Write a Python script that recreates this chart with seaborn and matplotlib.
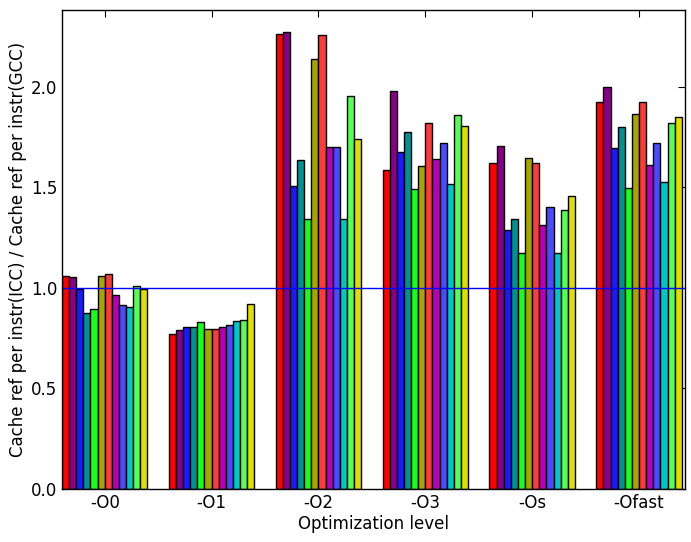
import numpy as np
import pandas as pd
import matplotlib
matplotlib.use("Agg")
import matplotlib.pyplot as plt
import seaborn as sns

levels = ["-O0", "-O1", "-O2", "-O3", "-Os", "-Ofast"]
benchmarks = ["b01", "b02", "b03", "b04", "b05", "b06",
              "b07", "b08", "b09", "b10", "b11", "b12"]

# ratio per benchmark, one list per optimization level
o0 = [1.060, 1.053, 0.995, 0.874, 0.894, 1.060, 1.068, 0.965, 0.915, 0.904, 1.010, 0.993]
o1 = [0.771, 0.791, 0.804, 0.804, 0.829, 0.795, 0.795, 0.804, 0.816, 0.834, 0.839, 0.919]
o2 = [2.264, 2.272, 1.507, 1.635, 1.345, 2.138, 2.259, 1.701, 1.701, 1.343, 1.953, 1.741]
o3 = [1.587, 1.980, 1.678, 1.776, 1.493, 1.605, 1.819, 1.642, 1.721, 1.516, 1.861, 1.804]
os_ = [1.620, 1.706, 1.290, 1.342, 1.173, 1.645, 1.620, 1.312, 1.401, 1.173, 1.386, 1.456]
ofast = [1.924, 2.002, 1.695, 1.799, 1.497, 1.866, 1.924, 1.610, 1.721, 1.526, 1.821, 1.849]

colors = ["#ff0000", "#870087", "#1a1aff", "#009191", "#1aff1a", "#a6a600",
          "#ff3a3a", "#b800b8", "#4a4aff", "#00c6c6", "#55ff55", "#dede00"]

rows = []
for lvl, vals in zip(levels, [o0, o1, o2, o3, os_, ofast]):
    for b, v in zip(benchmarks, vals):
        rows.append({"level": lvl, "bench": b, "ratio": v})
df = pd.DataFrame(rows)

sns.set_style("white")
plt.rcParams.update({
    "font.family": ["DejaVu Sans"],
    "font.size": 12,
    "text.color": "black",
    "axes.labelcolor": "black",
    "xtick.color": "black",
    "ytick.color": "black",
    "xtick.direction": "in",
    "ytick.direction": "in",
    "xtick.top": True,
    "ytick.right": True,
    "xtick.major.size": 5,
    "ytick.major.size": 5,
    "axes.edgecolor": "black",
    "axes.linewidth": 1.0,
})

fig = plt.figure(figsize=(6.91, 5.42), dpi=100)
ax = fig.add_axes([62 / 691, 1 - 489 / 542, 623 / 691, 479 / 542])

sns.barplot(data=df, x="level", y="ratio", hue="bench", order=levels,
            hue_order=benchmarks, palette=colors, saturation=1, width=0.8,
            edgecolor="black", linewidth=1, legend=False, ax=ax)

ax.axhline(1.0, color="blue", lw=1)
ax.set_xlim(-0.4, 5.43)
ax.set_ylim(0, 2.383)
ax.set_yticks([0, 0.5, 1.0, 1.5, 2.0])
ax.set_yticklabels(["0.0", "0.5", "1.0", "1.5", "2.0"])
ax.tick_params(labelsize=12, colors="black")
ax.set_xlabel("Optimization level", fontsize=12, color="black", labelpad=2)
ax.set_ylabel("Cache ref per instr(ICC) / Cache ref per instr(GCC)", fontsize=12,
              color="black", labelpad=3)
for s in ax.spines.values():
    s.set_visible(True)
    s.set_color("black")

fig.savefig("out.png", dpi=100)
